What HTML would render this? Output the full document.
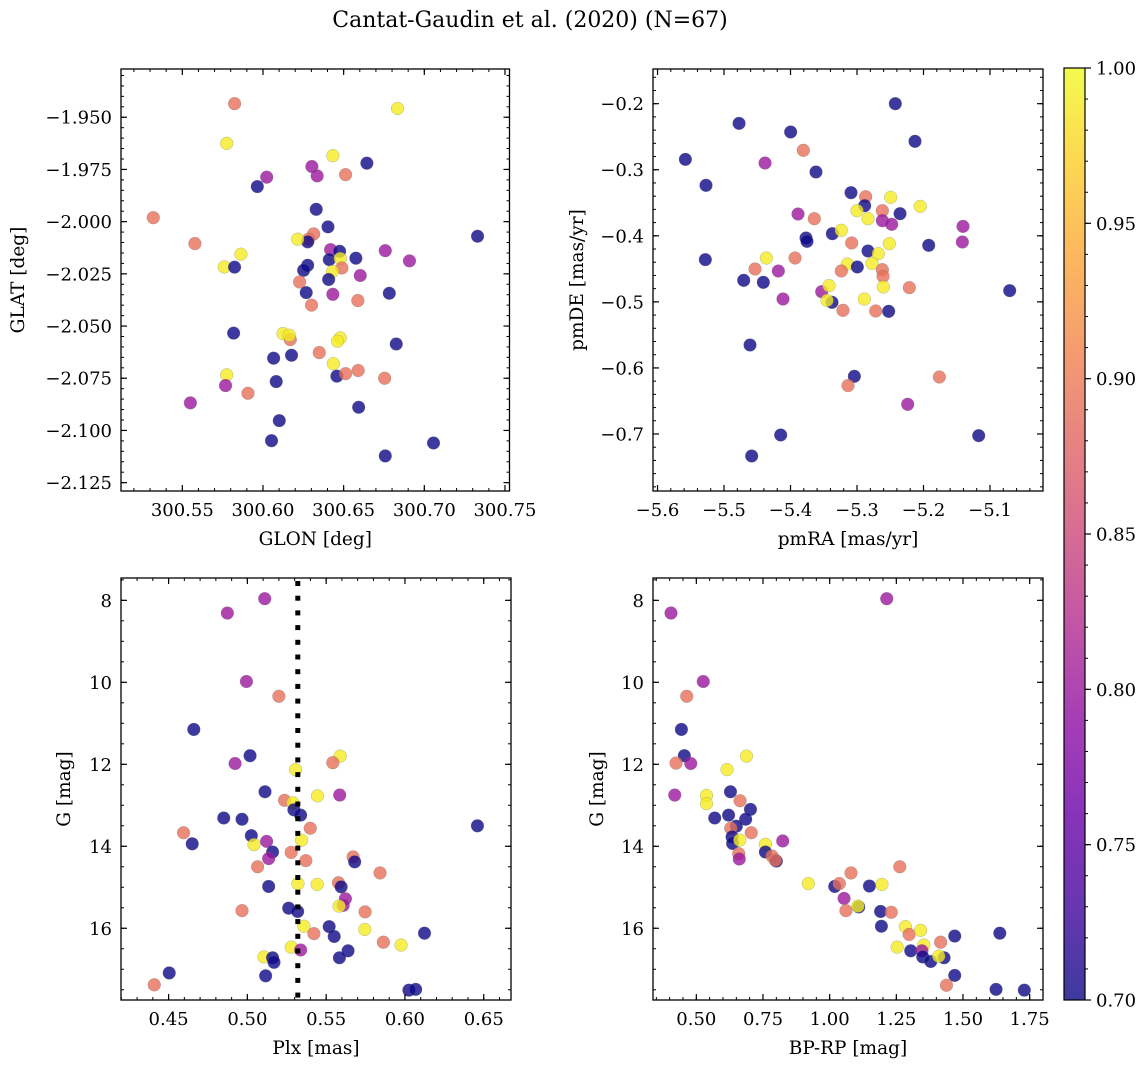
<!DOCTYPE html>
<html><head><meta charset="utf-8">
<style>
html,body{margin:0;padding:0;background:#fff;}
svg{display:block;font-family:"DejaVu Serif","Liberation Serif",serif;}
</style></head>
<body>
<svg id="fig" width="1148" height="1068" viewBox="0 0 1148 1068">
<text x="530" y="27" font-size="22" text-anchor="middle">Cantat-Gaudin et al. (2020) (N=67)</text>
</svg>
<script>
// Panel 1: GLON / GLAT
const glon=[300.5824,300.6834,300.5775,300.6433,300.6644,300.6303,300.6336,300.6512,300.6023,300.5965,300.5320,300.6330,300.6403,300.7330,300.5578,300.6314,300.6283,300.6277,300.6215,300.6419,300.6475,300.6758,300.5863,300.6576,300.6411,300.6479,300.6908,300.5760,300.5824,300.6277,300.6252,300.6489,300.6431,300.6603,300.6407,300.6227,300.6268,300.6433,300.6783,300.6588,300.6301,300.5818,300.6124,300.6169,300.6163,300.6479,300.6462,300.6826,300.6066,300.6177,300.6349,300.6436,300.6458,300.6512,300.6590,300.6754,300.5775,300.5768,300.6082,300.5907,300.5550,300.6593,300.6101,300.6053,300.7057,300.6758];
const glat=[-1.9435,-1.9458,-1.9625,-1.9684,-1.9720,-1.9736,-1.9781,-1.9775,-1.9787,-1.9832,-1.9981,-1.9941,-2.0025,-2.0070,-2.0105,-2.0059,-2.0084,-2.0097,-2.0084,-2.0134,-2.0142,-2.0139,-2.0156,-2.0175,-2.0182,-2.0177,-2.0188,-2.0217,-2.0218,-2.0209,-2.0233,-2.0222,-2.0239,-2.0258,-2.0277,-2.0289,-2.0340,-2.0348,-2.0343,-2.0378,-2.0400,-2.0534,-2.0536,-2.0565,-2.0544,-2.0557,-2.0573,-2.0586,-2.0654,-2.0640,-2.0627,-2.0680,-2.0740,-2.0728,-2.0713,-2.0750,-2.0734,-2.0785,-2.0766,-2.0822,-2.0868,-2.0889,-2.0953,-2.1049,-2.1060,-2.1122];
const prob1=[0.89,0.99,0.99,0.99,0.70,0.80,0.80,0.89,0.80,0.70,0.89,0.70,0.70,0.70,0.89,0.89,0.89,0.70,0.99,0.80,0.70,0.80,0.99,0.70,0.70,0.99,0.80,0.99,0.70,0.70,0.70,0.89,0.99,0.80,0.70,0.89,0.70,0.80,0.70,0.89,0.89,0.70,0.99,0.89,0.99,0.99,0.99,0.70,0.70,0.70,0.89,0.99,0.70,0.89,0.89,0.89,0.99,0.80,0.70,0.89,0.80,0.70,0.70,0.70,0.70,0.70];
// Panel 2: pmRA / pmDE
const pmra=[-5.2424,-5.4774,-5.3998,-5.2128,-5.5581,-5.3807,-5.4383,-5.3617,-5.5271,-5.3090,-5.2870,-5.2494,-5.2885,-5.3000,-5.2048,-5.2619,-5.2353,-5.3887,-5.2835,-5.2619,-5.2479,-5.3642,-5.1406,-5.3371,-5.3236,-5.3767,-5.3752,-5.3080,-5.2514,-5.1922,-5.1416,-5.2835,-5.2679,-5.5281,-5.4363,-5.3932,-5.3145,-5.2774,-5.2995,-5.3236,-5.4534,-5.4183,-5.2619,-5.2609,-5.4704,-5.4409,-5.2604,-5.2213,-5.0704,-5.3531,-5.3421,-5.4113,-5.3376,-5.3451,-5.2890,-5.3211,-5.2719,-5.2524,-5.4609,-5.3040,-5.3135,-5.1762,-5.2238,-5.4148,-5.1170,-5.4584];
const pmde=[-0.2000,-0.2298,-0.2429,-0.2570,-0.2843,-0.2706,-0.2898,-0.3034,-0.3236,-0.3347,-0.3408,-0.3418,-0.3544,-0.3620,-0.3554,-0.3620,-0.3665,-0.3670,-0.3741,-0.3771,-0.3826,-0.3741,-0.3857,-0.3968,-0.3917,-0.4033,-0.4084,-0.4109,-0.4119,-0.4144,-0.4094,-0.4230,-0.4270,-0.4361,-0.4336,-0.4336,-0.4427,-0.4417,-0.4472,-0.4533,-0.4503,-0.4533,-0.4513,-0.4613,-0.4674,-0.4704,-0.4775,-0.4785,-0.4830,-0.4846,-0.4755,-0.4957,-0.5007,-0.4977,-0.4957,-0.5128,-0.5138,-0.5143,-0.5653,-0.6127,-0.6268,-0.6137,-0.6551,-0.7015,-0.7025,-0.7333];
const prob2=[0.70,0.70,0.70,0.70,0.70,0.89,0.80,0.70,0.70,0.70,0.89,0.99,0.70,0.99,0.99,0.89,0.70,0.80,0.99,0.80,0.80,0.89,0.80,0.70,0.99,0.70,0.70,0.89,0.99,0.70,0.80,0.70,0.99,0.70,0.99,0.89,0.99,0.99,0.70,0.89,0.89,0.80,0.89,0.89,0.70,0.70,0.99,0.89,0.70,0.80,0.99,0.80,0.70,0.99,0.99,0.89,0.89,0.70,0.70,0.70,0.89,0.89,0.80,0.70,0.70,0.70];
// Panel 3: Plx / G
const plx=[0.5110,0.4873,0.4994,0.5200,0.4660,0.5017,0.4922,0.5589,0.5542,0.5306,0.5112,0.5236,0.5289,0.5445,0.5586,0.5295,0.5338,0.4850,0.4966,0.6460,0.5399,0.4595,0.4650,0.5025,0.5122,0.5344,0.5042,0.5160,0.5278,0.5135,0.5371,0.5671,0.5681,0.5065,0.5842,0.5135,0.5321,0.5443,0.5578,0.5595,0.5622,0.5608,0.5582,0.5262,0.5319,0.4966,0.5747,0.5359,0.5519,0.5745,0.6124,0.5422,0.5551,0.5863,0.5975,0.5278,0.5338,0.5639,0.5584,0.5105,0.5160,0.5169,0.4504,0.5116,0.4409,0.6025,0.6068];
const gmag3=[7.96,8.31,9.98,10.34,11.15,11.79,11.98,11.80,11.96,12.13,12.67,12.88,12.94,12.77,12.75,13.11,13.24,13.31,13.34,13.50,13.56,13.67,13.94,13.74,13.88,13.85,13.96,14.14,14.15,14.30,14.35,14.26,14.38,14.50,14.65,14.98,14.91,14.93,14.89,14.99,15.28,15.44,15.46,15.51,15.59,15.57,15.60,15.95,15.96,16.03,16.12,16.13,16.20,16.34,16.41,16.46,16.53,16.55,16.72,16.70,16.72,16.83,17.09,17.16,17.38,17.51,17.49];
const prob3=[0.80,0.80,0.80,0.89,0.70,0.70,0.80,0.99,0.89,0.99,0.70,0.89,0.99,0.99,0.80,0.70,0.70,0.70,0.70,0.70,0.89,0.89,0.70,0.70,0.80,0.99,0.99,0.70,0.89,0.80,0.89,0.89,0.70,0.89,0.89,0.70,0.99,0.99,0.89,0.70,0.80,0.80,0.99,0.70,0.70,0.89,0.89,0.99,0.70,0.99,0.70,0.89,0.70,0.89,0.99,0.99,0.80,0.70,0.70,0.99,0.70,0.70,0.70,0.70,0.89,0.70,0.70];
const plxLine=[0.532];
// Panel 4: BP-RP / G
const bprp=[1.214,0.405,0.526,0.464,0.444,0.455,0.424,0.479,0.688,0.615,0.419,0.538,0.538,0.628,0.664,0.703,0.569,0.621,0.685,0.650,0.629,0.706,0.634,0.636,0.663,0.824,0.759,0.759,0.784,0.800,0.796,0.659,0.661,0.920,1.080,1.263,1.019,1.036,1.149,1.196,1.054,1.109,1.106,1.061,1.191,1.231,1.194,1.284,1.298,1.341,1.469,1.638,1.416,1.253,1.353,1.304,1.346,1.349,1.379,1.429,1.409,1.469,1.438,1.624,1.730];
const gmag4=[7.96,8.31,9.98,10.34,11.15,11.79,11.97,11.98,11.80,12.13,12.75,12.76,12.96,12.67,12.89,13.10,13.31,13.24,13.34,13.51,13.56,13.67,13.77,13.93,13.85,13.87,13.95,14.14,14.24,14.36,14.34,14.18,14.31,14.91,14.65,14.50,14.98,14.91,14.97,14.93,15.27,15.48,15.46,15.57,15.59,15.61,15.95,15.96,16.15,16.05,16.19,16.12,16.34,16.46,16.41,16.55,16.55,16.70,16.81,16.72,16.68,17.15,17.39,17.49,17.51];
const prob4=[0.80,0.80,0.80,0.89,0.70,0.70,0.89,0.80,0.99,0.99,0.80,0.99,0.99,0.70,0.89,0.70,0.70,0.70,0.70,0.70,0.89,0.89,0.70,0.70,0.99,0.80,0.99,0.70,0.89,0.70,0.89,0.89,0.80,0.99,0.89,0.89,0.70,0.89,0.70,0.99,0.80,0.70,0.99,0.89,0.70,0.89,0.70,0.99,0.89,0.99,0.70,0.70,0.89,0.99,0.99,0.70,0.80,0.70,0.70,0.70,0.99,0.70,0.89,0.70,0.70];
// tick labels
const ticks1x=[300.55,300.60,300.65,300.70,300.75];
const ticks1y=[-1.950,-1.975,-2.000,-2.025,-2.050,-2.075,-2.100,-2.125];
const ticks2x=[-5.6,-5.5,-5.4,-5.3,-5.2,-5.1];
const ticks2y=[-0.2,-0.3,-0.4,-0.5,-0.6,-0.7];
const ticks3x=[0.45,0.50,0.55,0.60,0.65];
const ticksG=[8,10,12,14,16];
const ticks4x=[0.50,0.75,1.00,1.25,1.50,1.75];
const ticksCb=[0.70,0.75,0.80,0.85,0.90,0.95,1.00];

const NS="http://www.w3.org/2000/svg";
const svg=document.getElementById('fig');
const TF=18, LF=18.5;
function mk(tag,attrs,parent){const e=document.createElementNS(NS,tag);for(const k in attrs)e.setAttribute(k,attrs[k]);(parent||svg).appendChild(e);return e;}
const stops=[[13,8,135],[65,4,157],[106,0,168],[143,13,164],[177,42,144],[204,71,120],[225,100,98],[242,132,75],[252,166,54],[252,206,37],[240,249,33]];
function plasma(t){t=Math.max(0,Math.min(1,t));const f=t*10;const i=Math.min(9,Math.floor(f));const u=f-i;const a=stops[i],b=stops[i+1];return 'rgb('+a.map((v,k)=>Math.round(v+(b[k]-v)*u)).join(',')+')';}
const vmin=0.70,vmax=1.00;
function fmt(v,d){return (v<0?'\u2212':'')+Math.abs(v).toFixed(d);}

function panel(o){
  const g=mk('g',{});
  
  
  const sx=v=>o.L+(v-o.x0)/(o.x1-o.x0)*(o.R-o.L);
  const sy=v=>o.B-(v-o.y0)/(o.y1-o.y0)*(o.B-o.T);
  const cp=mk('clipPath',{id:'cp'+o.name},g);
  mk('rect',{x:o.L,y:o.T,width:o.R-o.L,height:o.B-o.T},cp);
  const pts=mk('g',{'clip-path':'url(#cp'+o.name+')'},g);
  for(let i=0;i<o.xs.length;i++){
    const c=mk('circle',{cx:sx(o.xs[i]),cy:sy(o.ys[i]),r:6.4,fill:plasma((o.ps[i]-vmin)/(vmax-vmin)),'fill-opacity':0.8,stroke:'#777','stroke-opacity':0.5,'stroke-width':0.5},pts);
    
    
  }
  if(o.vline){
    const lx=sx(o.vline[0]);
    for(let y=o.T+3;y<o.B-2;y+=14.7){
      const l=mk('rect',{x:lx-2.5,y:y,width:5,height:Math.min(5,o.B-y),fill:'#000'},g);
      
      
    }
  }
  for(let v=Math.ceil(o.x0/o.mx-1e-6)*o.mx;v<=o.x1+1e-9;v+=o.mx){const x=sx(v);mk('line',{x1:x,x2:x,y1:o.B,y2:o.B-3,stroke:'#000','stroke-width':1},g);mk('line',{x1:x,x2:x,y1:o.T,y2:o.T+3,stroke:'#000','stroke-width':1},g);}
  const ylo=Math.min(o.y0,o.y1),yhi=Math.max(o.y0,o.y1);
  for(let v=Math.ceil(ylo/o.my-1e-6)*o.my;v<=yhi+1e-9;v+=o.my){const y=sy(v);mk('line',{x1:o.L,x2:o.L+3,y1:y,y2:y,stroke:'#000','stroke-width':1},g);mk('line',{x1:o.R,x2:o.R-3,y1:y,y2:y,stroke:'#000','stroke-width':1},g);}
  o.tx.forEach(v=>{const x=sx(v);mk('line',{x1:x,x2:x,y1:o.B,y2:o.B-6,stroke:'#000','stroke-width':1.2},g);mk('line',{x1:x,x2:x,y1:o.T,y2:o.T+6,stroke:'#000','stroke-width':1.2},g);
    const t=mk('text',{x:x,y:o.B+25,'font-size':TF,'text-anchor':'middle'},g);t.textContent=fmt(v,o.dx);
    
    });
  o.ty.forEach(v=>{const y=sy(v);mk('line',{x1:o.L,x2:o.L+6,y1:y,y2:y,stroke:'#000','stroke-width':1.2},g);mk('line',{x1:o.R,x2:o.R-6,y1:y,y2:y,stroke:'#000','stroke-width':1.2},g);
    const t=mk('text',{x:o.L-9,y:y+6.5,'font-size':TF,'text-anchor':'end'},g);t.textContent=fmt(v,o.dy);
    
    });
  const fr=mk('rect',{x:o.L,y:o.T,width:o.R-o.L,height:o.B-o.T,fill:'none',stroke:'#000','stroke-width':1.3},g);
  
  
  const xl=mk('text',{x:(o.L+o.R)/2,y:o.B+54,'font-size':LF,'text-anchor':'middle'},g);xl.textContent=o.xlab;
  
  
  const yx=o.ylx,yy=(o.T+o.B)/2;
  const yl=mk('text',{x:yx,y:yy,'font-size':LF,'text-anchor':'middle',transform:'rotate(-90 '+yx+' '+yy+')'},g);yl.textContent=o.ylab;
  
  
}
panel({name:'panel-position',L:121,R:509.5,T:69,B:491,x0:300.5120,x1:300.7528,y0:-2.1290,y1:-1.9269,xs:glon,ys:glat,ps:prob1,tx:ticks1x,ty:ticks1y,dx:2,dy:3,mx:0.01,my:0.005,xlab:'GLON [deg]',ylab:'GLAT [deg]',ylx:24});
panel({name:'panel-proper-motion',L:653,R:1043,T:69,B:491,x0:-5.6068,x1:-5.0203,y0:-0.7863,y1:-0.1475,xs:pmra,ys:pmde,ps:prob2,tx:ticks2x,ty:ticks2y,dx:1,dy:1,mx:0.02,my:0.02,xlab:'pmRA [mas/yr]',ylab:'pmDE [mas/yr]',ylx:583});
panel({name:'panel-parallax',L:121,R:511,T:578,B:1000,x0:0.4198,x1:0.6673,y0:17.75,y1:7.455,xs:plx,ys:gmag3,ps:prob3,tx:ticks3x,ty:ticksG,dx:2,dy:0,mx:0.01,my:0.5,xlab:'Plx [mas]',ylab:'G [mag]',ylx:70,vline:plxLine});
panel({name:'panel-cmd',L:653,R:1043,T:578,B:1000,x0:0.3375,x1:1.8,y0:17.75,y1:7.455,xs:bprp,ys:gmag4,ps:prob4,tx:ticks4x,ty:ticksG,dx:2,dy:0,mx:0.05,my:0.5,xlab:'BP-RP [mag]',ylab:'G [mag]',ylx:603});

// colorbar
const cb=mk('g',{});


const defs=mk('defs',{},cb);
const lg=mk('linearGradient',{id:'cbg',x1:0,y1:1,x2:0,y2:0},defs);
for(let i=0;i<=20;i++){mk('stop',{offset:(i/20),'stop-color':plasma(i/20),'stop-opacity':0.8},lg);}
const CT=68,CB=1000,CL=1064,CR=1085;
mk('rect',{x:CL,y:CT,width:CR-CL,height:CB-CT,fill:'url(#cbg)',stroke:'#000','stroke-width':1.2},cb);
const cy=v=>CB-(v-vmin)/(vmax-vmin)*(CB-CT);
for(let v=vmin;v<=vmax+1e-9;v+=0.01){mk('line',{x1:CR,x2:CR+3,y1:cy(v),y2:cy(v),stroke:'#000','stroke-width':1},cb);}
ticksCb.forEach(v=>{mk('line',{x1:CR,x2:CR+6,y1:cy(v),y2:cy(v),stroke:'#000','stroke-width':1.2},cb);
  const t=mk('text',{x:CR+11,y:cy(v)+6.5,'font-size':TF},cb);t.textContent=v.toFixed(2);
  
  });
</script>
</body></html>
